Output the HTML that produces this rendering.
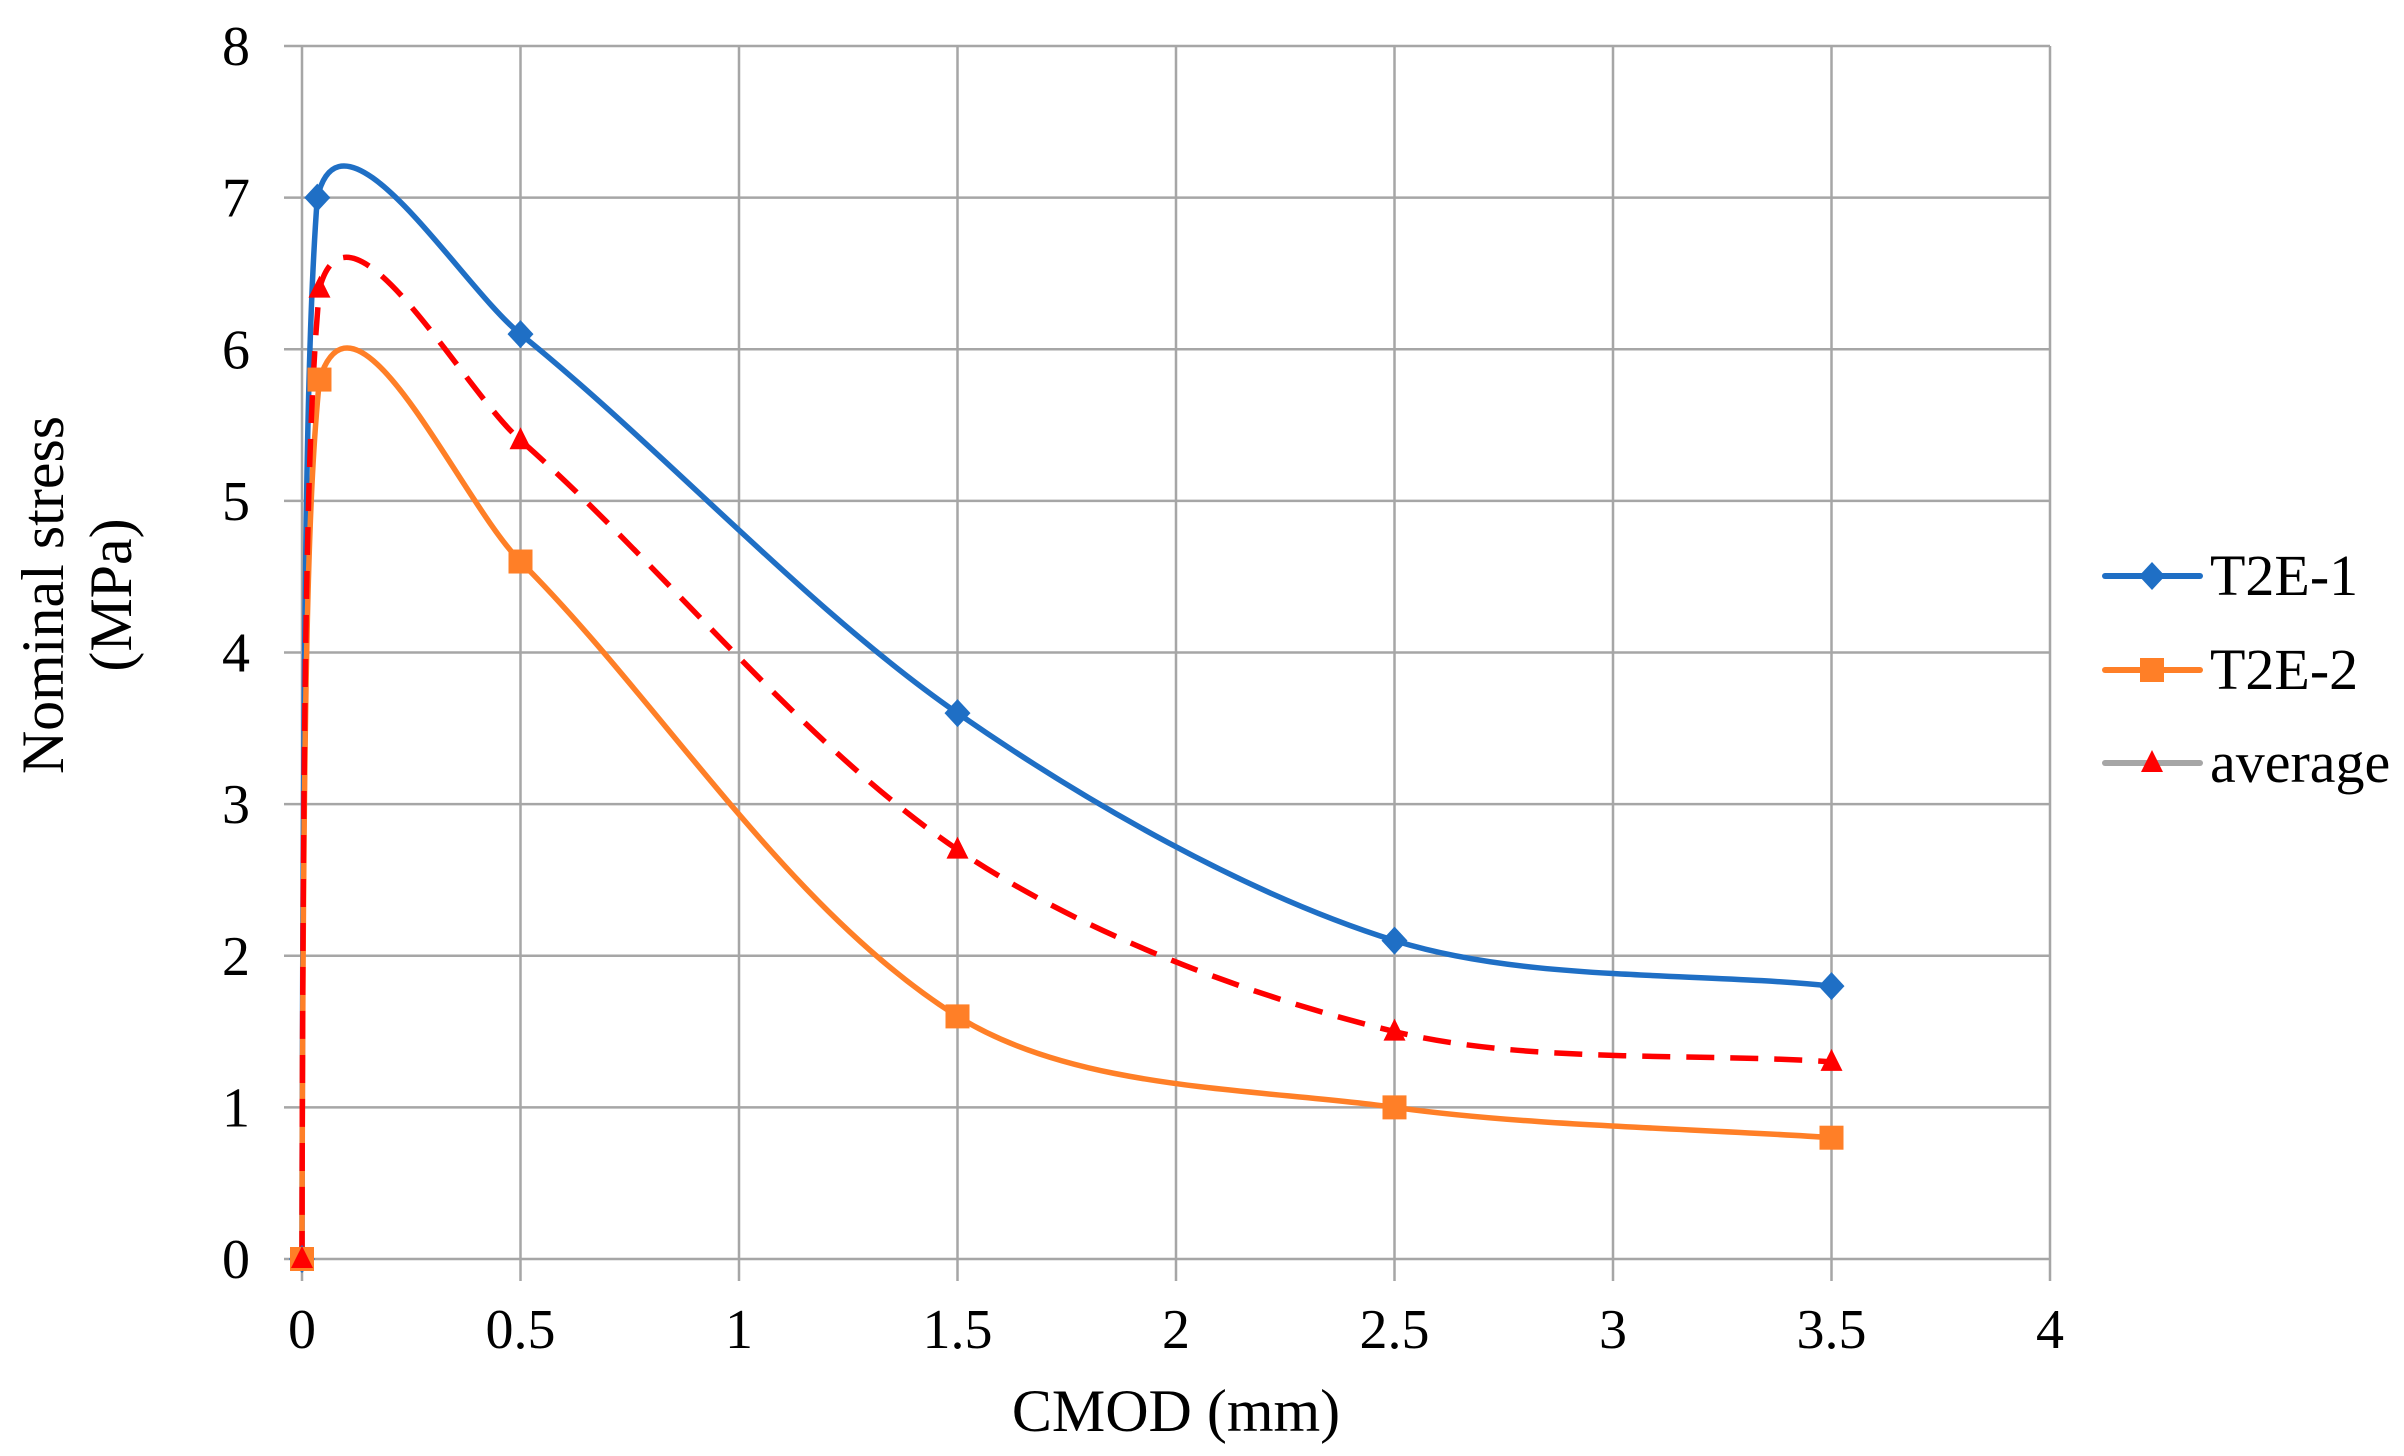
<!DOCTYPE html>
<html><head><meta charset="utf-8"><style>
html,body{margin:0;padding:0;background:#fff;}
svg{display:block;font-family:"Liberation Serif",serif;}
</style></head><body>
<svg id="chart" width="2404" height="1456" viewBox="0 0 2404 1456" xmlns="http://www.w3.org/2000/svg">
<defs><clipPath id="pc"><rect x="298" y="40" width="1754" height="1226"/></clipPath></defs>
<g id="grid"></g>
<g id="axes"></g>
<g id="series" clip-path="url(#pc)"></g>
<g id="markers"></g>
<text x="1176" y="1431" font-size="60" text-anchor="middle">CMOD (mm)</text>
<g transform="translate(63,595) rotate(-90)">
<text x="0" y="0" font-size="60" text-anchor="middle">Nominal stress</text>
<text x="0" y="68" font-size="60" text-anchor="middle">(MPa)</text>
</g>
<g id="legend"></g>
</svg>
<script>
const xTicks=[0,0.5,1,1.5,2,2.5,3,3.5,4];
const yTicks=[0,1,2,3,4,5,6,7,8];
const seriesNames=["T2E-1","T2E-2","average"];
const xT2E1=[0,0.035,0.5,1.5,2.5,3.5];
const yT2E1=[0,7.0,6.1,3.6,2.1,1.8];
const xT2E2=[0,0.04,0.5,1.5,2.5,3.5];
const yT2E2=[0,5.8,4.6,1.6,1.0,0.8];
const xAvg=[0,0.04,0.5,1.5,2.5,3.5];
const yAvg=[0,6.4,5.4,2.7,1.5,1.3];

const NS="http://www.w3.org/2000/svg";
const X0=302,X1=2050,Y0=1259,Y1=46;
const sx=v=>X0+(v-0)/(4-0)*(X1-X0);
const sy=v=>Y0-(v-0)/(8-0)*(Y0-Y1);
function mk(tag,attrs,parent){const e=document.createElementNS(NS,tag);for(const k in attrs)e.setAttribute(k,attrs[k]);parent.appendChild(e);return e;}
const grid=document.getElementById('grid'),axes=document.getElementById('axes');
xTicks.forEach(t=>{
  const l=mk('line',{x1:sx(t),x2:sx(t),y1:Y1,y2:Y0+22,stroke:'#a6a6a6','stroke-width':2.5},grid);
  
  
  const tx=mk('text',{x:sx(t),y:1348,'font-size':56,'text-anchor':'middle'},axes);
  tx.textContent=t;
  
  
});
yTicks.forEach(t=>{
  const l=mk('line',{x1:X0-18,x2:X1,y1:sy(t),y2:sy(t),stroke:'#a6a6a6','stroke-width':2.5},grid);
  
  
  const tx=mk('text',{x:250,y:sy(t)+19,'font-size':56,'text-anchor':'end'},axes);
  tx.textContent=t;
  
  
});
function smooth(xs,ys){
  const p=xs.map((x,i)=>[sx(x),sy(ys[i])]);
  let d=`M${p[0][0]},${p[0][1]}`;
  const k=0.21;
  const tan=i=>{const a=p[Math.max(0,i-1)],b=p[Math.min(p.length-1,i+1)];const dx=b[0]-a[0],dy=b[1]-a[1];const n=Math.hypot(dx,dy)||1;return[dx/n,dy/n];};
  for(let i=0;i<p.length-1;i++){
    const a=p[i],b=p[i+1],L=Math.hypot(b[0]-a[0],b[1]-a[1]);
    const ta=tan(i),tb=tan(i+1);
    let c1,c2;
    if(i==0){
      c1=[a[0]+1,a[1]+(b[1]-a[1])*0.7];
      c2=[b[0]-(b[0]-a[0])*0.6,b[1]+(a[1]-b[1])*0.12];
    }else{
      const f1=(i==1)?0.45:k*1.5;
      c1=[a[0]+ta[0]*L*f1,a[1]+ta[1]*L*f1];
      c2=[b[0]-tb[0]*L*k*1.5,b[1]-tb[1]*L*k*1.5];
    }
    d+=` C${c1[0]},${c1[1]} ${c2[0]},${c2[1]} ${b[0]},${b[1]}`;
  }
  return d;
}
const ser=document.getElementById('series'),mkr=document.getElementById('markers');
const sets=[[xT2E1,yT2E1,'#1f6fc5',null,'diamond'],[xT2E2,yT2E2,'#ff7f27',null,'square'],[xAvg,yAvg,'#ff0000','28 16','triangle']];
function marker(shape,x,y,color,parent){
  let e;
  if(shape=='diamond')e=mk('polygon',{points:`${x},${y-14} ${x+13},${y} ${x},${y+14} ${x-13},${y}`,fill:color},parent);
  else if(shape=='square')e=mk('rect',{x:x-12,y:y-12,width:24,height:24,fill:color},parent);
  else e=mk('polygon',{points:`${x},${y-13} ${x+11},${y+9} ${x-11},${y+9}`,fill:color},parent);
  return e;
}
sets.forEach((s,i)=>{
  const a={d:smooth(s[0],s[1]),fill:'none',stroke:s[2],'stroke-width':5.5,'stroke-linejoin':'round'};
  if(s[3])a['stroke-dasharray']=s[3];
  const pth=mk('path',a,ser);
  
  
  s[0].forEach((x,j)=>{
    const m=marker(s[4],sx(x),sy(s[1][j]),s[2],mkr);
    
    
  });
});
const lg=document.getElementById('legend');
const lcol=['#1f6fc5','#ff7f27','#a6a6a6'],mcol=['#1f6fc5','#ff7f27','#ff0000'],shp=['diamond','square','triangle'],ly=[576,670,763];
seriesNames.forEach((n,i)=>{
  const l=mk('line',{x1:2105,x2:2200,y1:ly[i],y2:ly[i],stroke:lcol[i],'stroke-width':6,'stroke-linecap':'round'},lg);
  
  
  const m=marker(shp[i],2152,ly[i],mcol[i],lg);
  
  
  const t=mk('text',{x:2210,y:ly[i]+19,'font-size':58},lg);
  t.textContent=n;
  
  
});
</script>
</body></html>
